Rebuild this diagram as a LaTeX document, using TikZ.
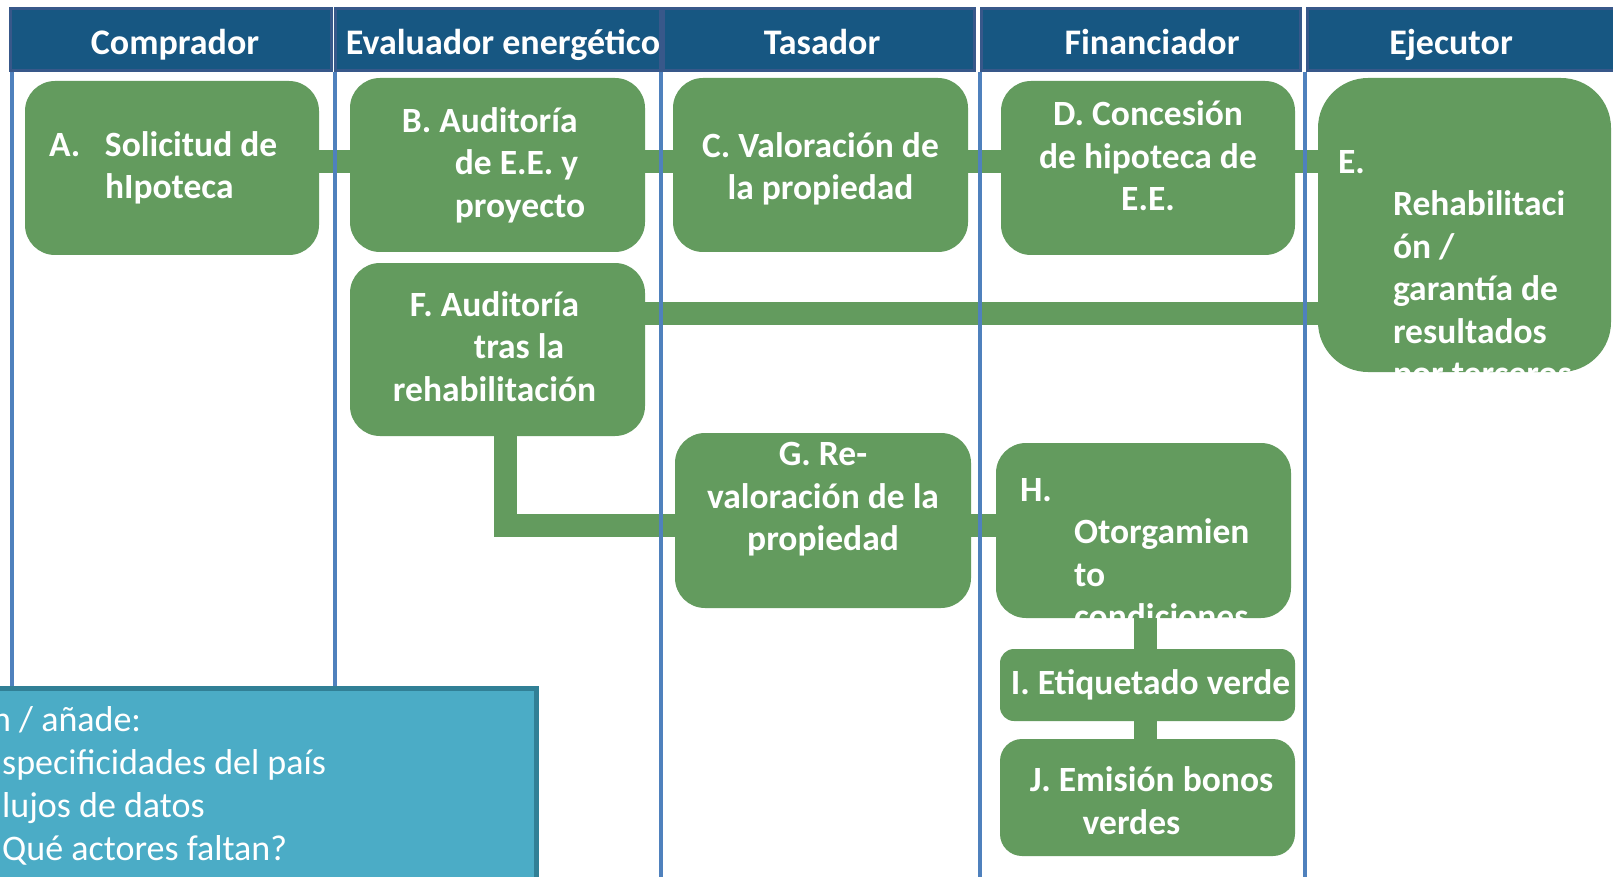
\documentclass[tikz,border=0pt]{standalone}
\usepackage{fontspec}
\setmainfont{Carlito}
\usetikzlibrary{positioning}
\definecolor{headblue}{RGB}{23,87,130}
\definecolor{headedge}{RGB}{56,88,138}
\definecolor{stagegreen}{RGB}{99,155,94}
\definecolor{laneblue}{RGB}{79,129,189}
\definecolor{notefill}{RGB}{75,172,198}
\definecolor{noteedge}{RGB}{49,128,150}

\begin{document}
\begin{tikzpicture}[x=1pt, y=-1pt,
  lanehead/.style={draw=headedge, line width=3pt, fill=headblue, text=white, inner sep=0pt, minimum height=62pt, text height=32pt, text depth=2pt, font=\fontsize{36}{40}\selectfont\bfseries},
  stage/.style={fill=stagegreen, rounded corners=30pt, inner sep=0pt},
  stagetext/.style={text=white, inner sep=0pt, align=center, font=\fontsize{35.5}{42.5}\selectfont\bfseries},
  link/.style={draw=stagegreen, line width=23pt},
  lane/.style={draw=laneblue, line width=4pt}]
  \useasboundingbox (0,0) rectangle (1613,877);
  \clip (0,0) rectangle (1613,877);

  \node[lanehead, minimum width=321pt] (comprador) at (171,40) {\hspace*{8pt}Comprador};
  \node[lanehead, minimum width=323pt] (evaluador) at (498,40) {\hspace*{10pt}Evaluador energético};
  \node[lanehead, minimum width=311pt] (tasador) at (819,40) {\hspace*{6pt}Tasador};
  \node[lanehead, minimum width=319pt] (financiador) at (1141,40) {\hspace*{22pt}Financiador};
  \node[lanehead, minimum width=330pt] (ejecutor) at (1472,40) {Ejecutor\hspace*{42pt}};

  \node[stage, minimum width=294pt, minimum height=174pt] (a) at (172,168) {};
  \node[stage, minimum width=295pt, minimum height=174pt] (b) at (497.5,165) {};
  \node[stage, minimum width=295pt, minimum height=174pt] (c) at (820.5,165) {};
  \node[stage, minimum width=294pt, minimum height=174pt] (d) at (1148,168) {};
  \node[stage, minimum width=293pt, minimum height=294pt, rounded corners=50pt] (e) at (1464.5,225) {};
  \node[stage, minimum width=295pt, minimum height=173pt] (f) at (497.5,349.5) {};
  \node[stage, minimum width=296pt, minimum height=175pt] (g) at (823,520.5) {};
  \node[stage, minimum width=295pt, minimum height=175pt] (h) at (1143.5,530.5) {};
  \node[stage, minimum width=295pt, minimum height=72pt, rounded corners=14pt] (i) at (1147.5,685) {};
  \node[stage, minimum width=295pt, minimum height=117pt, rounded corners=22pt] (j) at (1147.5,797.5) {};

  \node[stagetext, align=left, anchor=west] (ta) at ([xshift=24pt]a.west) {\makebox[56pt][l]{A.}Solicitud de\\\hspace*{56pt}hIpoteca};
  \node[stagetext, align=left] (tb) at ([xshift=-4pt]b.center) {B. Auditoría\\\hspace*{53pt}de E.E. y\\\hspace*{53pt}proyecto};
  \node[stagetext] (tc) at ([yshift=-4pt]c.center) {C. Valoración de\\la propiedad};
  \node[stagetext] (td) at ([yshift=12pt]d.center) {D. Concesión\\de hipoteca de\\E.E.};
  \node[stagetext, align=left, anchor=west] (te) at ([xshift=20pt,yshift=-46pt]e.west) {E.\\\hspace*{55pt}Rehabilitaci\\\hspace*{55pt}ón /\\\hspace*{55pt}garantía de\\\hspace*{55pt}resultados\\\hspace*{55pt}por terceros};
  \node[stagetext] (tf) at ([xshift=-3pt,yshift=3pt]f.center) {F. Auditoría\\\hspace*{49pt}tras la\\rehabilitación};
  \node[stagetext] (tg) at ([yshift=21pt]g.center) {G. Re-\\valoración de la\\propiedad};
  \node[stagetext, align=left, anchor=west] (th) at ([xshift=24pt,yshift=-23pt]h.west) {H.\\\hspace*{54pt}Otorgamien\\\hspace*{54pt}to\\\hspace*{54pt}condiciones};
  \node[stagetext] (ti) at ([xshift=3pt]i.center) {I. Etiquetado verde};
  \node[stagetext] (tj) at ([xshift=4pt,yshift=-3pt]j.center) {J. Emisión bonos\\verdes\hspace*{40pt}};

  \coordinate (row1) at (0,162);
  \coordinate (row2) at (0,313.5);
  \coordinate (row3) at (0,525);
  \coordinate (drop) at (505,0);
  \coordinate (col) at (1145,0);
  \draw[link] (a.east |- row1) -- (b.west |- row1);
  \draw[link] (b.east |- row1) -- (c.west |- row1);
  \draw[link] (c.east |- row1) -- (d.west |- row1);
  \draw[link] (d.east |- row1) -- (e.west |- row1);
  \draw[link] (f.east |- row2) -- (e.west |- row2);
  \draw[link, line join=miter] (f.south -| drop) -- (drop |- row3) -- (g.west |- row3);
  \draw[link] (g.east |- row3) -- (h.west |- row3);
  \draw[link] (h.south -| col) -- (i.north -| col);
  \draw[link] (i.south -| col) -- (j.north -| col);

  \draw[lane] (12,72) -- (12,877);
  \draw[lane] (335,72) -- (335,877);
  \draw[lane] (661,72) -- (661,877);
  \draw[lane] (980,72) -- (980,877);
  \draw[lane] (1305,72) -- (1305,877);

  \node[draw=noteedge, line width=5pt, fill=notefill, inner sep=0pt, minimum width=546pt, minimum height=210pt, anchor=north west] (note) at (-12,686) {};
  \node[text=white, inner sep=0pt, align=left, anchor=west, font=\fontsize{36}{43}\selectfont] (notetext) at ([xshift=14pt,yshift=8pt]note.west) {\hspace*{-10pt}n / añade:\\specificidades del país\\lujos de datos\\Qué actores faltan?};
\end{tikzpicture}
\end{document}
